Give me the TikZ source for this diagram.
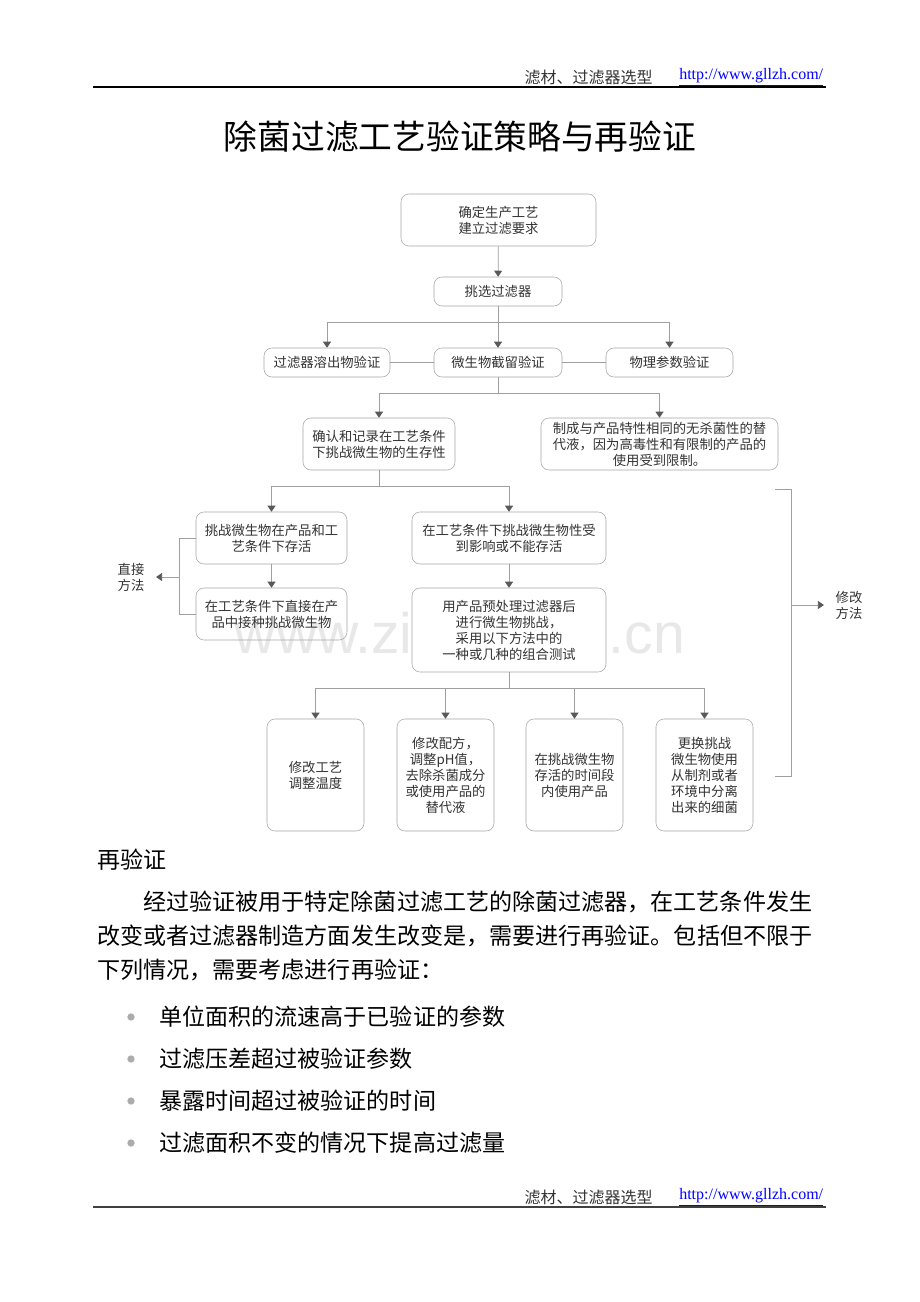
\documentclass[tikz,border=0pt]{standalone}
\usepackage{fontspec}
\setmainfont{Liberation Serif}
\setsansfont{Liberation Sans}
\newfontfamily\cjk{Noto Sans CJK SC}
\usetikzlibrary{arrows.meta}
\newdimen\pxu \pxu=0.75pt

\begin{document}
\begin{tikzpicture}[x=0.75pt, y=-0.75pt,
  every node/.style={font=\cjk\fontsize{10}{12}\selectfont, inner sep=0pt, text=black!80},
  box/.style n args={2}{draw=gray!70, rounded corners=6pt, fill=white, align=center,
                        minimum width=#1\pxu, minimum height=#2\pxu},
  conn/.style={draw=gray!75, line width=0.6pt},
  body/.style={font=\cjk\fontsize{17.3}{20}\selectfont, text=black, anchor=west},
  >={Triangle[width=6pt,length=4.5pt,color=black!65]}]
\useasboundingbox[fill=white] (0,0) rectangle (920,1302);

% header and title
\node[anchor=east, font=\cjk\fontsize{12}{14}\selectfont] (hd) at (653,77) {滤材、过滤器选型};
\node[anchor=west, font=\rmfamily\fontsize{12}{14}\selectfont, text=blue] (url) at (679,77) {\underline{http://www.gllzh.com/}};
\draw[line width=1.1pt] (93,87) -- (826,87);
\node[font=\cjk\fontsize{25.3}{30}\selectfont, text=black] (ttl) at (460,137) {除菌过滤工艺验证策略与再验证};

% watermark, behind the boxes
\node[font=\sffamily\fontsize{42.8}{44}\selectfont, text=gray!18] (wm) at (460,633) {www.zixin.com.cn};

% flow chart
\node[box={195}{52}] (top) at (498.5,220) {确定生产工艺\\建立过滤要求};
\node[box={128}{29}] (sel) at (498,291.5) {挑选过滤器};
\node[box={126}{29}] (ext) at (327,362.5) {过滤器溶出物验证};
\node[box={128}{29}] (mic) at (498,362.5) {微生物截留验证};
\node[box={127}{29}] (phy) at (669.5,362.5) {物理参数验证};
\node[box={152}{52}] (conf) at (379,444) {确认和记录在工艺条件\\下挑战微生物的生存性};
\node[box={237}{52}] (subs) at (659.5,444) {制成与产品特性相同的无杀菌性的替\\代液，因为高毒性和有限制的产品的\\使用受到限制。};
\node[box={151}{52}] (surv) at (271.5,538) {挑战微生物在产品和工\\艺条件下存活};
\node[box={194}{52}] (aff) at (509,538) {在工艺条件下挑战微生物性受\\到影响或不能存活};
\node[box={151}{52}, fill=none] (inoc) at (271.5,614) {在工艺条件下直接在产\\品中接种挑战微生物};
\node[box={194}{84}] (pre) at (509,630) {用产品预处理过滤器后\\进行微生物挑战，\\采用以下方法中的\\一种或几种的组合测试};
\node[box={97}{112}] (m1) at (315.5,775) {修改工艺\\调整温度};
\node[box={97}{112}] (m2) at (445.5,775) {修改配方，\\调整pH值，\\去除杀菌成分\\或使用产品的\\替代液};
\node[box={97}{112}] (m3) at (574.5,775) {在挑战微生物\\存活的时间段\\内使用产品};
\node[box={97}{112}] (m4) at (704.5,775) {更换挑战\\微生物使用\\从制剂或者\\环境中分离\\出来的细菌};
\node[inner xsep=8.6pt, align=center] (dir) at (131,577) {直接\\方法};
\node[inner xsep=8.6pt, align=center] (mod) at (849,605) {修改\\方法};

\coordinate (j1) at (498,322);
\coordinate (j2) at (498,393);
\coordinate (j3) at (379,486);
\coordinate (j4) at (509,688);
\coordinate (lj) at (180,577);
\coordinate (rt) at (775,489);
\coordinate (rb) at (775,776);
\coordinate (rj) at (791,605);

\draw[conn,->] (top) -- (sel);
\draw[conn,->] (sel) -- (mic);
\draw[conn,->] (j1) -| (ext);
\draw[conn,->] (j1) -| (phy);
\draw[conn] (ext) -- (mic);
\draw[conn] (mic) -- (phy);
\draw[conn] (mic) -- (j2);
\draw[conn,->] (j2) -| (conf);
\draw[conn,->] (j2) -| (subs);
\draw[conn] (conf) -- (j3);
\draw[conn,->] (j3) -| (surv);
\draw[conn,->] (j3) -| (aff);
\draw[conn,->] (surv) -- (inoc);
\draw[conn,->] (aff) -- (pre);
\draw[conn] (pre) -- (j4);
\draw[conn,->] (j4) -| (m1);
\draw[conn,->] (j4) -| (m2);
\draw[conn,->] (j4) -| (m3);
\draw[conn,->] (j4) -| (m4);
\draw[conn] (surv.west) -- ++(-16,0) |- (inoc.west);
\draw[conn,->] (lj) -- (dir);
\draw[conn] (rt) -- ++(16,0) |- (rb);
\draw[conn,->] (rj) -- (mod);

% revalidation text
\node[body] (rv) at (97,860) {再验证};
\node[body] (p1) at (143,902) {经过验证被用于特定除菌过滤工艺的除菌过滤器，在工艺条件发生};
\node[body] (p2) at (97,936) {改变或者过滤器制造方面发生改变是，需要进行再验证。包括但不限于};
\node[body] (p3) at (97,970) {下列情况，需要考虑进行再验证：};
\foreach \y/\t [count=\i] in {1017/单位面积的流速高于已验证的参数,
                              1059/过滤压差超过被验证参数,
                              1101/暴露时间超过被验证的时间,
                              1143/过滤面积不变的情况下提高过滤量} {
  \node[circle, fill=gray!65, minimum size=5.5pt] (b\i) at (131,\y) {};
  \node[body] (t\i) at (159,\y) {\t};
}

% footer
\node[anchor=east, font=\cjk\fontsize{12}{14}\selectfont] (fd) at (653,1197) {滤材、过滤器选型};
\node[anchor=west, font=\rmfamily\fontsize{12}{14}\selectfont, text=blue] (furl) at (679,1197) {\underline{http://www.gllzh.com/}};
\draw[line width=1.5pt, black!75] (93,1207) -- (826,1207);
\end{tikzpicture}
\end{document}
